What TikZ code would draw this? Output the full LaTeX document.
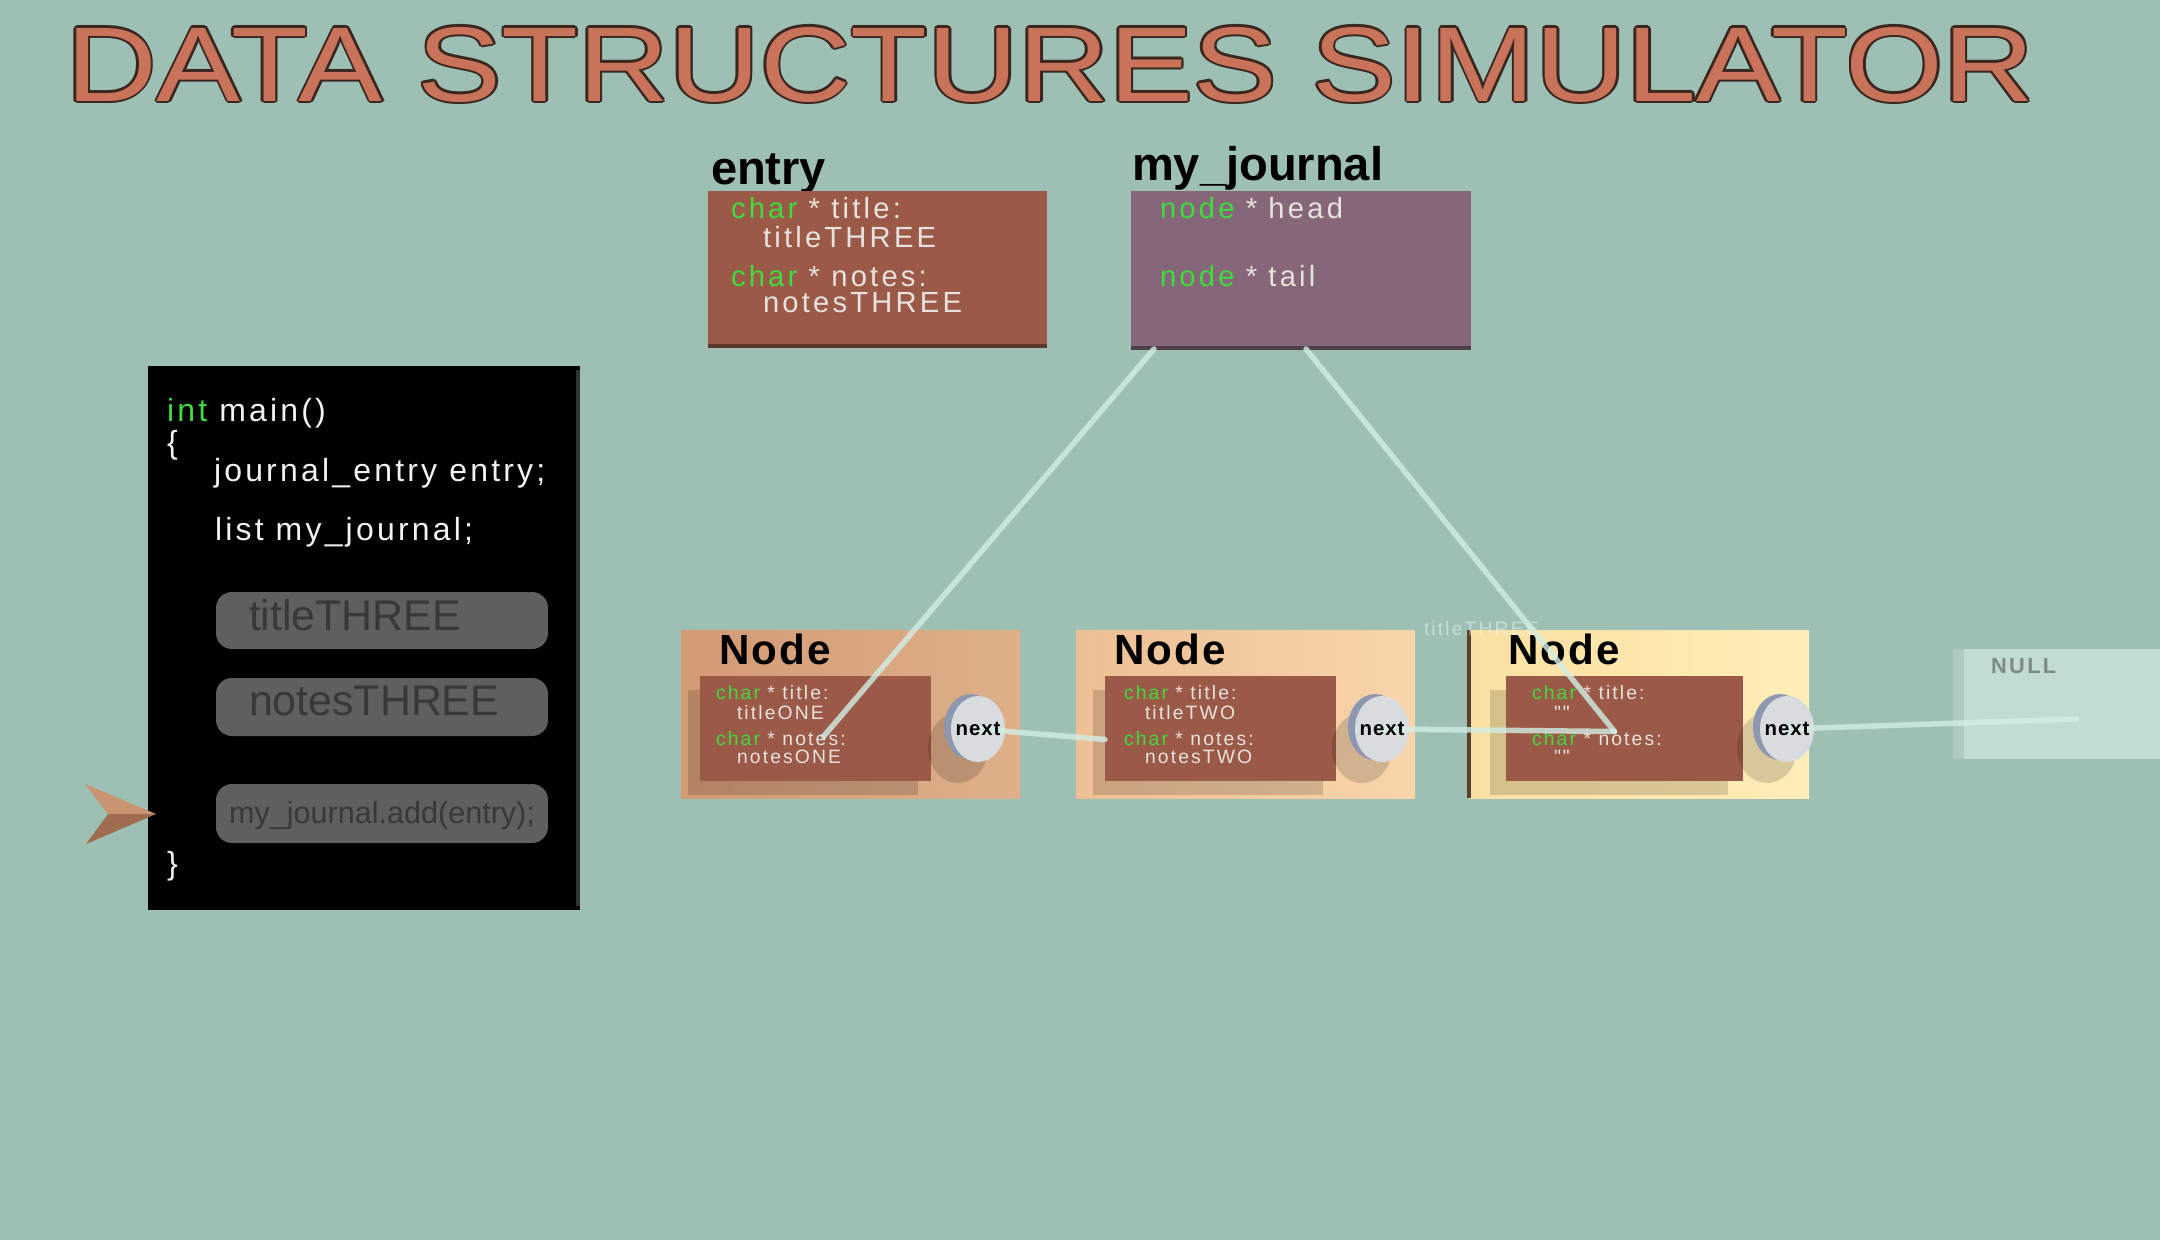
\documentclass[tikz,border=0pt]{standalone}
\usepackage{fontspec}
\setmainfont{Liberation Sans}
\newfontfamily\spc[LetterSpace=11]{Liberation Sans}
\newfontfamily\codef[LetterSpace=10]{Liberation Sans}
\newfontfamily\nodef[LetterSpace=5]{Liberation Sans}
\usetikzlibrary{calc,shapes.geometric}
\definecolor{bg}{HTML}{9EBFB3}
\definecolor{titlefill}{HTML}{C8735A}
\definecolor{titleline}{HTML}{3A2820}
\definecolor{entryc}{HTML}{9B5A47}
\definecolor{entryedge}{HTML}{5B382C}
\definecolor{jc}{HTML}{866679}
\definecolor{jedge}{HTML}{4E3E48}
\definecolor{kw}{HTML}{3FDB3F}
\definecolor{valc}{HTML}{E8E2DE}
\definecolor{codetxt}{HTML}{F2F2F2}
\definecolor{btn}{HTML}{5F5F5F}
\definecolor{btntext}{HTML}{383838}
\definecolor{ptrlight}{HTML}{C99471}
\definecolor{ptrdark}{HTML}{9F6C4F}
\definecolor{n1l}{HTML}{D39A74}
\definecolor{n1r}{HTML}{DDB08A}
\definecolor{n2l}{HTML}{EDBF94}
\definecolor{n2r}{HTML}{F8D5AB}
\definecolor{n3l}{HTML}{FBE0A2}
\definecolor{n3r}{HTML}{FFEDB8}
\definecolor{n3edge}{HTML}{5A4030}
\definecolor{rimc}{HTML}{8E97B0}
\definecolor{facec}{HTML}{D9DCDF}
\definecolor{nullc}{HTML}{C2DCD4}
\definecolor{nulledge}{HTML}{AFCAC1}
\definecolor{nulltext}{HTML}{7F8A87}
\definecolor{linkc}{HTML}{D2EEE5}
\newcommand\fsz[1]{\fontsize{#1}{#1}\selectfont}
\newcommand\titletext{\scalebox{1.185}[1]{\fsz{30.2}DATA STRUCTURES SIMULATOR}}
\begin{document}
\begin{tikzpicture}[x=0.1mm,y=-0.1mm,
  box/.style={draw=none, inner sep=0, outer sep=0, anchor=north west},
  txt/.style={inner sep=0, outer sep=0, anchor=base west},
  link/.style={draw=linkc, line width=0.55mm, opacity=0.8, line cap=round},
  btnbox/.style={box, fill=btn, rounded corners=1.6mm, minimum width=33.2mm},
  innerbox/.style={box, fill=entryc, minimum width=23.1mm, minimum height=10.5mm},
  outerbox/.style={box, minimum width=33.9mm, minimum height=16.8mm},
  boxtxt/.style={txt, font=\spc\fsz{8.3}, text=valc},
  intxt/.style={txt, font=\spc\fsz{5.5}, text=valc},
  codetx/.style={txt, font=\codef\fsz{9.1}, text=codetxt},
  nodelbl/.style={txt, font=\nodef\bfseries\fsz{12}, text=black},
  rim/.style={ellipse, fill=rimc, minimum width=5.4mm, minimum height=6.6mm, inner sep=0},
  face/.style={ellipse, fill=facec, minimum width=5.4mm, minimum height=6.6mm, inner sep=0},
  cshadow/.style={ellipse, fill=black, opacity=0.15, minimum width=6mm, minimum height=7mm, inner sep=0},
  nexttxt/.style={inner sep=0, font=\nodef\bfseries\fsz{5.8}, text=black}
]
\fill[bg] (0,0) rectangle (2160,1240);
\useasboundingbox (0,0) rectangle (2160,1240);

% title with outline
\foreach \dx/\dy [count=\k] in {-2.5/0,2.5/0,0/-2.5,0/2.5,-1.8/-1.8,1.8/1.8,-1.8/1.8,1.8/-1.8}
  \node[txt, text=titleline] (titleo\k) at (66+\dx,101+\dy) {\titletext};
\node[txt, text=titlefill] (title) at (66,101) {\titletext};

% entry struct
\node[txt, font=\bfseries\fsz{13.4}] (entrylbl) at (711,184) {entry};
\node[box, fill=entryc, minimum width=33.9mm, minimum height=15.3mm] (entrybox) at (708,191) {};
\fill[entryedge] (entrybox.south west) rectangle ($(entrybox.south east)+(0,4)$);
\node[boxtxt] (et1) at (731,218) {\textcolor{kw}{char} * title:};
\node[boxtxt] (et2) at (763,247) {titleTHREE};
\node[boxtxt] (et3) at (731,286) {\textcolor{kw}{char} * notes:};
\node[boxtxt] (et4) at (763,312) {notesTHREE};

% my_journal
\node[txt, font=\bfseries\fsz{13.4}] (jlbl) at (1132,180) {my\_journal};
\node[box, fill=jc, minimum width=34mm, minimum height=15.5mm] (jbox) at (1131,191) {};
\fill[jedge] (jbox.south west) rectangle ($(jbox.south east)+(0,4)$);
\node[boxtxt] (jt1) at (1160,218) {\textcolor{kw}{node} * head};
\node[boxtxt] (jt2) at (1160,286) {\textcolor{kw}{node} * tail};

% code panel
\node[box, fill=black, minimum width=43.2mm, minimum height=54.4mm] (code) at (148,366) {};
\fill[black!80] ($(code.north east)+(-4,4)$) rectangle ($(code.south east)+(0,-4)$);
\node[codetx] (c1t) at (167,421) {\textcolor{kw}{int}\ main()};
\node[codetx] (c2t) at (167,453) {\{};
\node[codetx] (c3t) at (214,481) {journal\_entry entry;};
\node[codetx] (c4t) at (215,540) {list my\_journal;};
\node[codetx] (c5t) at (167,874) {\}};
\node[btnbox, minimum height=5.7mm] (tbtn) at (216,592) {};
\node[txt, font=\fsz{12.2}, text=btntext] (tbtnt) at (249,630) {titleTHREE};
\node[btnbox, minimum height=5.8mm] (nbtn) at (216,678) {};
\node[txt, font=\fsz{12.2}, text=btntext] (nbtnt) at (249,715) {notesTHREE};
\node[btnbox, minimum height=5.9mm] (abtn) at (216,784) {};
\node[inner sep=0, anchor=base, font=\fsz{8.7}, text=btntext] (abtnt) at (382,823) {my\_journal.add(entry);};

% pointer arrow
\coordinate (ptip) at (156,814);
\coordinate (ptop) at (85,784);
\coordinate (pnotch) at (108,814);
\coordinate (pbot) at (86,844);
\fill[ptrlight] (ptip) -- (ptop) -- (pnotch) -- cycle;
\fill[ptrdark] (ptip) -- (pnotch) -- (pbot) -- cycle;

% list nodes
\node[outerbox, left color=n1l, right color=n1r] (n1) at (681,630) {};
\node[outerbox, left color=n2l, right color=n2r] (n2) at (1076,630) {};
\node[outerbox, left color=n3l, right color=n3r, minimum width=34mm] (n3) at (1469,630) {};
\draw[n3edge, line width=0.4mm] (n3.north west) -- (n3.south west);

\node[nodelbl] (n1l) at (719,664) {Node};
\node[nodelbl] (n2l) at (1114,664) {Node};
\node[nodelbl] (n3l) at (1508,664) {Node};

% inner shadows
\fill[black, opacity=0.15] (688,690) rectangle (918,795);
\fill[black, opacity=0.15] (1093,690) rectangle (1323,795);
\fill[black, opacity=0.15] (1490,690) rectangle (1728,795);

\node[innerbox] (i1) at (700,676) {};
\node[innerbox] (i2) at (1105,676) {};
\node[innerbox, minimum width=23.7mm] (i3) at (1506,676) {};

\node[intxt] (i1a) at (716,699) {\textcolor{kw}{char} * title:};
\node[intxt] (i1b) at (737,719) {titleONE};
\node[intxt] (i1c) at (716,745) {\textcolor{kw}{char} * notes:};
\node[intxt] (i1d) at (737,763) {notesONE};
\node[intxt] (i2a) at (1124,699) {\textcolor{kw}{char} * title:};
\node[intxt] (i2b) at (1145,719) {titleTWO};
\node[intxt] (i2c) at (1124,745) {\textcolor{kw}{char} * notes:};
\node[intxt] (i2d) at (1145,763) {notesTWO};
\node[intxt] (i3a) at (1532,699) {\textcolor{kw}{char} * title:};
\node[intxt] (i3b) at (1554,719) {""};
\node[intxt] (i3c) at (1532,745) {\textcolor{kw}{char} * notes:};
\node[intxt] (i3d) at (1554,763) {""};

% ghost text
\node[txt, font=\spc\fsz{5.5}, text=white, opacity=0.45] (ghost) at (1424,635) {titleTHREE};

% next discs
\node[cshadow] (s1) at (958,748) {};
\node[cshadow] (s2) at (1362,748) {};
\node[cshadow] (s3) at (1767,748) {};
\node[rim] (r1) at (971,727) {};
\node[rim] (r2) at (1375,727) {};
\node[rim] (r3) at (1780,727) {};
\node[face] (c1) at (978,729) {};
\node[face] (c2) at (1382,729) {};
\node[face] (c3) at (1787,729) {};

% NULL
\node[box, fill=nullc, minimum width=20.7mm, minimum height=11mm] (nullbox) at (1953,649) {};
\fill[nulledge] (nullbox.north west) rectangle ($(nullbox.south west)+(11,0)$);
\node[txt, font=\spc\bfseries\fsz{6.2}, text=nulltext] (nulltxt) at (1991,673) {NULL};

% links
\coordinate (hs) at ($(jbox.south west)+(23,3)$);
\coordinate (ts) at ($(jbox.south west)+(175,3)$);
\coordinate (h1) at ($(i1.center)+(8,8)$);
\coordinate (t3) at ($(i3.center)+(-10,3)$);
\coordinate (l2) at ($(i2.west)+(0,11)$);
\coordinate (nl) at ($(nullbox.center)+(20,15)$);
\draw[link] (hs) -- (h1);
\draw[link] (ts) -- (t3);
\draw[link] (c1.center) -- (l2);
\draw[link] (c2.center) -- (t3);
\draw[link] (c3.center) -- (nl);

\node[nexttxt] (x1) at (c1) {next};
\node[nexttxt] (x2) at (c2) {next};
\node[nexttxt] (x3) at (c3) {next};
\end{tikzpicture}
\end{document}
